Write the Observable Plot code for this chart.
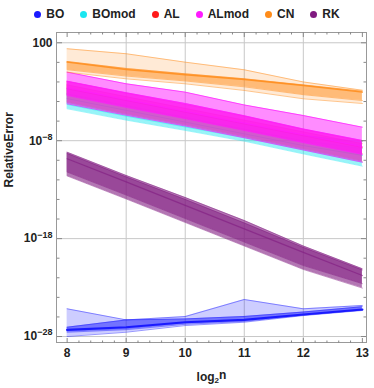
<!DOCTYPE html>
<html><head><meta charset="utf-8">
<script src="https://cdn.jsdelivr.net/npm/d3@7"></script>
<script src="https://cdn.jsdelivr.net/npm/@observablehq/plot@0.6"></script>
<style>
body{margin:0;background:#fff;font-family:"Liberation Sans",Arial,sans-serif;}
#legend{width:374px;height:28px;display:flex;justify-content:center;align-items:center;gap:16px;font-weight:bold;font-size:12px;color:#222;}
.item{display:flex;align-items:center;gap:5px}
.dot{width:7px;height:7px;border-radius:50%;display:inline-block}
</style></head><body>
<div id="legend"></div>
<div id="chart"></div>
<script>
// ---- data (log10 of relative error) ----
const log2n = [8, 9, 10, 11, 12, 13];
const methods = ["BO", "BOmod", "AL", "ALmod", "CN", "RK"];
const colors = ["#1a1aff", "#1ae6f0", "#ff1a1a", "#ff1aff", "#ff8c1a", "#801a80"];

const BO_hi  = [-25.17, -26.30, -25.96, -24.22, -25.17, -24.83];
const BO_q3  = [-27.05, -26.30, -26.20, -25.95, -25.50, -24.95];
const BO_mid = [-27.32, -27.05, -26.54, -26.30, -25.75, -25.24];
const BO_q1  = [-27.56, -27.30, -26.75, -26.45, -25.82, -25.30];
const BO_lo  = [-28.00, -27.56, -26.88, -26.54, -25.86, -25.34];

const BOmod_hi  = [-2.70, -3.90, -5.10, -6.30, -7.50, -8.10];
const BOmod_q3  = [-3.20, -4.40, -5.60, -6.80, -8.00, -8.80];
const BOmod_mid = [-3.70, -4.90, -6.10, -7.30, -8.50, -9.50];
const BOmod_q1  = [-4.30, -5.50, -6.60, -7.70, -8.95, -10.20];
const BOmod_lo  = [-4.74, -5.90, -6.95, -8.05, -9.35, -10.60];

const AL_hi  = [-1.95, -3.15, -4.30, -5.50, -6.85, -8.05];
const AL_q3  = [-2.30, -3.50, -4.70, -5.90, -7.10, -8.30];
const AL_mid = [-2.70, -3.90, -5.10, -6.30, -7.50, -8.70];
const AL_q1  = [-3.30, -4.50, -5.70, -6.90, -8.10, -9.30];
const AL_lo  = [-4.10, -5.30, -6.40, -7.60, -8.85, -10.10];

const ALmod_hi  = [-1.00, -2.19, -3.04, -4.35, -5.43, -6.62];
const ALmod_q3  = [-1.92, -3.10, -4.20, -5.45, -6.80, -7.98];
const ALmod_mid = [-2.60, -3.80, -5.00, -6.20, -7.40, -8.60];
const ALmod_q1  = [-3.38, -4.60, -5.75, -6.95, -8.20, -9.40];
const ALmod_lo  = [-4.23, -5.40, -6.50, -7.70, -8.95, -10.20];

const CN_hi  = [1.39, 0.88, 0.02, -0.76, -2.00, -2.85];
const CN_q3  = [0.09, -0.62, -1.17, -1.68, -2.30, -2.95];
const CN_mid = [0.02, -0.73, -1.27, -1.75, -2.36, -3.04];
const CN_q1  = [-0.75, -1.40, -1.90, -2.50, -3.30, -3.90];
const CN_lo  = [-1.00, -1.68, -2.19, -2.87, -3.72, -4.20];

const RK_hi  = [-9.17, -11.55, -13.80, -16.15, -18.75, -21.08];
const RK_q3  = [-9.30, -11.70, -14.00, -16.40, -18.90, -21.20];
const RK_mid = [-9.85, -12.20, -14.60, -17.00, -19.40, -21.77];
const RK_q1  = [-11.20, -13.55, -15.95, -18.35, -20.75, -22.60];
const RK_lo  = [-11.60, -13.95, -16.35, -18.75, -21.15, -23.05];

const yTicks = [1e2, 1e-8, 1e-18, 1e-28];
const yTickLabels = ["100", "10^−8", "10^−18", "10^−28"];
const yMinor = [1e0, 1e-2, 1e-4, 1e-6, 1e-10, 1e-12, 1e-14, 1e-16, 1e-20, 1e-22, 1e-24, 1e-26];
const xMinor = [8.2,8.4,8.6,8.8,9.2,9.4,9.6,9.8,10.2,10.4,10.6,10.8,11.2,11.4,11.6,11.8,12.2,12.4,12.6,12.8];

// ---- table built from the arrays ----
const series = {
  BO: [BO_lo, BO_q1, BO_mid, BO_q3, BO_hi],
  BOmod: [BOmod_lo, BOmod_q1, BOmod_mid, BOmod_q3, BOmod_hi],
  AL: [AL_lo, AL_q1, AL_mid, AL_q3, AL_hi],
  ALmod: [ALmod_lo, ALmod_q1, ALmod_mid, ALmod_q3, ALmod_hi],
  CN: [CN_lo, CN_q1, CN_mid, CN_q3, CN_hi],
  RK: [RK_lo, RK_q1, RK_mid, RK_q3, RK_hi]
};
const rows = [];
for (const m of methods) {
  const [lo, q1, mid, q3, hi] = series[m];
  log2n.forEach((x, j) => rows.push({method: m, x,
    lo: 10 ** lo[j], q1: 10 ** q1[j], mid: 10 ** mid[j], q3: 10 ** q3[j], hi: 10 ** hi[j]}));
}

// styles per method
const style = {
  BO:    {outer: 0.22, inner: 0.5, edge: 0.45, midW: 2.2, midO: 1},
  BOmod: {outer: 0.45, inner: 0.35, edge: 0.4, midW: 1, midO: 0.6},
  AL:    {outer: 0.4, inner: 0.3, edge: 0.3, midW: 1, midO: 0.5},
  ALmod: {outer: 0.5, inner: 0.72, edge: 0.7, midW: 1, midO: 0.6},
  CN:    {outer: 0.18, inner: 0.5, edge: 0.5, midW: 1.4, midO: 0.85},
  RK:    {outer: 0.6, inner: 0.5, edge: 0.45, midW: 1.2, midO: 0.6}
};

const dataMarks = [];
methods.forEach((m, i) => {
  const c = colors[i], s = style[m];
  const f = {filter: d => d.method === m, x: "x"};
  dataMarks.push(
    Plot.areaY(rows, {...f, y1: "lo", y2: "hi", fill: c, fillOpacity: s.outer}),
    Plot.areaY(rows, {...f, y1: "q1", y2: "q3", fill: c, fillOpacity: s.inner}),
    Plot.line(rows, {...f, y: "hi", stroke: c, strokeOpacity: s.edge, strokeWidth: 1}),
    Plot.line(rows, {...f, y: "q3", stroke: c, strokeOpacity: s.edge, strokeWidth: 1}),
    Plot.line(rows, {...f, y: "q1", stroke: c, strokeOpacity: s.edge, strokeWidth: 1}),
    Plot.line(rows, {...f, y: "lo", stroke: c, strokeOpacity: s.edge, strokeWidth: 1}),
    Plot.line(rows, {...f, y: "mid", stroke: c, strokeOpacity: s.midO, strokeWidth: s.midW})
  );
});

const W = 374, H = 360, mL = 56, mR = 8, mT = 4, mB = 46;
const fw = W - mL - mR, fh = H - mT - mB;
const font = {fontFamily: "Liberation Sans, Arial, sans-serif", fontWeight: "bold", fontSize: 12, fill: "#222"};
const tk = {stroke: "#888", tickFormat: () => "", label: null};

const chart = Plot.plot({
  width: W, height: H,
  marginLeft: mL, marginRight: mR, marginTop: mT, marginBottom: mB,
  x: {domain: [7.82, 13.07], axis: null},
  y: {type: "log", domain: [10 ** -28.61, 10 ** 3.05], axis: null},
  marks: [
    Plot.gridX({ticks: [9, 10, 11, 12], stroke: "#c8c8c8", strokeOpacity: 1}),
    Plot.gridY({ticks: yTicks, stroke: "#c8c8c8", strokeOpacity: 1}),
    ...dataMarks,
    Plot.frame({stroke: "#999"}),
    // inward frame ticks (axes mirrored across the frame)
    Plot.axisX({anchor: "top", ticks: log2n, tickSize: 5, dy: fh, ...tk}),
    Plot.axisX({anchor: "top", ticks: xMinor, tickSize: 2.5, dy: fh, ...tk}),
    Plot.axisX({anchor: "bottom", ticks: log2n, tickSize: 5, dy: -fh, ...tk}),
    Plot.axisX({anchor: "bottom", ticks: xMinor, tickSize: 2.5, dy: -fh, ...tk}),
    Plot.axisY({anchor: "right", ticks: yTicks, tickSize: 5, dx: -fw, ...tk}),
    Plot.axisY({anchor: "right", ticks: yMinor, tickSize: 2.5, dx: -fw, ...tk}),
    Plot.axisY({anchor: "left", ticks: yTicks, tickSize: 5, dx: fw, ...tk}),
    Plot.axisY({anchor: "left", ticks: yMinor, tickSize: 2.5, dx: fw, ...tk}),
    // labels
    Plot.axisX({anchor: "bottom", ticks: log2n, tickSize: 0, tickPadding: 6, tickFormat: d => String(d), label: null, ...font}),
    Plot.axisY({anchor: "left", ticks: yTicks, tickSize: 0, tickPadding: 4,
      tickFormat: d => yTickLabels[yTicks.indexOf(d)], label: null, ...font}),
    Plot.text(["log2n"], {frameAnchor: "bottom", dy: 38, ...font}),
    Plot.text(["RelativeError"], {frameAnchor: "left", dx: -47, rotate: -90, ...font})
  ]
});
document.getElementById("chart").appendChild(chart);

// superscripts / subscript
d3.select(chart).selectAll("text").each(function() {
  const t = d3.select(this);
  const s = t.text();
  if (s.includes("^")) {
    const [base, exp] = s.split("^");
    t.text(null);
    t.append("tspan").text(base);
    t.append("tspan").attr("dy", "-0.55em").attr("font-size", 9).text(exp);
  } else if (s === "log2n") {
    t.text(null);
    t.append("tspan").text("log");
    t.append("tspan").attr("dy", "0.3em").attr("font-size", 8).text("2");
    t.append("tspan").attr("dy", "-0.3em").text("n");
  }
});

// legend
const lg = d3.select("#legend");
methods.forEach((m, i) => {
  const it = lg.append("div").attr("class", "item");
  it.append("span").attr("class", "dot").style("background", colors[i]);
  it.append("span").text(m);
});
</script>
</body></html>
